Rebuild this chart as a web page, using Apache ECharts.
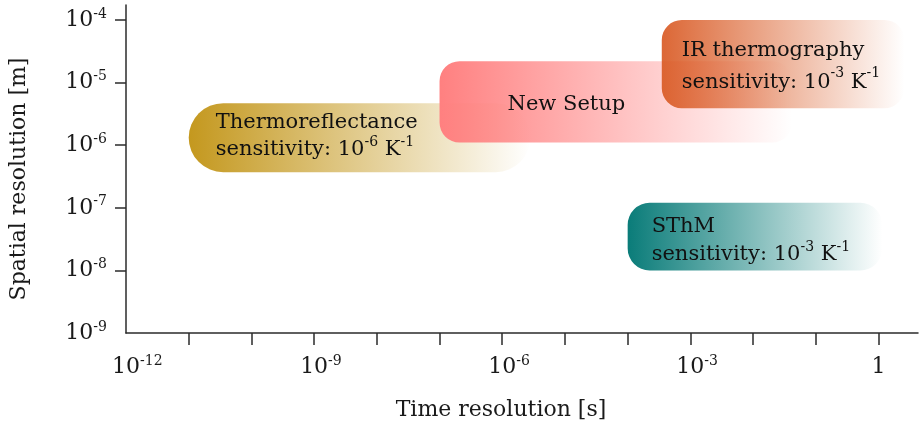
<!DOCTYPE html>
<html>
<head>
<meta charset="utf-8">
<script src="https://cdn.jsdelivr.net/npm/echarts@6/dist/echarts.min.js"></script>
<style>
  html, body { margin: 0; padding: 0; background: #fff; }
  #chart { width: 922px; height: 428px; }
</style>
</head>
<body>
<div id="chart"></div>
<script>
// Measurement techniques and the time / spatial resolution ranges they cover
const techniques = ['Thermoreflectance', 'New Setup', 'IR thermography', 'SThM'];
const timeFrom = [1e-11, 1e-7, 3.5e-4, 1e-4];      // s
const timeTo   = [2.8e-6, 4.2e-2, 2.6, 1.15];        // s
const sizeMin  = [3.7e-7, 1.1e-6, 3.9e-6, 1e-8];     // m
const sizeMax  = [4.7e-6, 2.2e-5, 1e-4, 1.2e-7];     // m
const bandTexts = [
  'Thermoreflectance\nsensitivity: 10{s|-6} K{s|-1}',
  'New Setup',
  'IR thermography\nsensitivity: 10{s|-3} K{s|-1}',
  'SThM\nsensitivity: 10{s|-3} K{s|-1}'
];

// Axis ticks and labels (decades)
const xTickValues  = [1e-11, 1e-10, 1e-9, 1e-8, 1e-7, 1e-6, 1e-5, 1e-4, 1e-3, 1e-2, 1e-1, 1];
const xLabelValues = [1e-12, 1e-9, 1e-6, 1e-3, 1];
const yTickValues  = [1e-8, 1e-7, 1e-6, 1e-5, 1e-4];
const yLabelValues = [1e-9, 1e-8, 1e-7, 1e-6, 1e-5, 1e-4];

// Styling
const FONT = '"DejaVu Serif", "Liberation Serif", serif';
const bandRGB = [[196, 152, 30], [255, 128, 128], [217, 90, 36], [10, 124, 121]];
const bandOpacity = [1, 1, 0.92, 1];
const bandRadius = [40, 20, 20, 22];
const textInset = [27, 68, 20, 24];
const textShift = [-2, 3, 2, 4];
const textLineHeight = [27, 27, 32, 28];
const axisColor = '#2b2b2b';

function exponentOf(v) { return Math.round(Math.log10(v)); }

const supStyle = { fontSize: 14, fontFamily: FONT, verticalAlign: 'top', lineHeight: 16, color: '#1a1a1a' };

function renderBand(params, api) {
  const i = params.dataIndex;
  const topLeft = api.coord([api.value(0), api.value(3)]);
  const bottomRight = api.coord([api.value(1), api.value(2)]);
  const x = topLeft[0], y = topLeft[1];
  const w = bottomRight[0] - x, h = bottomRight[1] - y;
  const c = bandRGB[i];
  const grad = new echarts.graphic.LinearGradient(0, 0, 1, 0, [
    { offset: 0, color: `rgba(${c[0]},${c[1]},${c[2]},1)` },
    { offset: 1, color: `rgba(${c[0]},${c[1]},${c[2]},0)` }
  ]);
  return {
    type: 'group',
    children: [
      {
        type: 'rect',
        shape: { x, y, width: w, height: h, r: Math.min(bandRadius[i], h / 2) },
        style: { fill: grad, opacity: bandOpacity[i] }
      },
      {
        type: 'text',
        x: x + textInset[i],
        y: y + h / 2 + textShift[i],
        style: {
          text: bandTexts[i],
          fill: '#111',
          fontSize: 21,
          fontFamily: FONT,
          lineHeight: textLineHeight[i],
          align: 'left',
          verticalAlign: 'middle',
          rich: {
            s: { fontSize: 14, fontFamily: FONT, verticalAlign: 'top', lineHeight: 17, fill: '#111' }
          }
        }
      }
    ]
  };
}

const chart = echarts.init(document.getElementById('chart'), null, { renderer: 'canvas' });

chart.setOption({
  animation: false,
  backgroundColor: '#fff',
  grid: { left: 126, right: 4, top: 5, bottom: 95, containLabel: false },
  xAxis: {
    type: 'log',
    logBase: 10,
    min: 1e-12,
    max: Math.pow(10, 0.63),
    name: 'Time resolution [s]',
    nameLocation: 'middle',
    nameGap: 66,
    nameTextStyle: { fontFamily: FONT, fontSize: 22, color: '#1a1a1a', padding: [0, 42, 0, 0] },
    axisLine: { show: true, lineStyle: { color: axisColor, width: 1.5 } },
    axisTick: { show: true, length: 12, inside: false, customValues: xTickValues, lineStyle: { color: axisColor, width: 1.5 } },
    minorTick: { show: false },
    splitLine: { show: false },
    axisLabel: {
      customValues: xLabelValues,
      margin: 21,
      fontFamily: FONT,
      fontSize: 22,
      lineHeight: 26,
      color: '#1a1a1a',
      formatter: function (v) {
        const e = exponentOf(v);
        if (e === 0) return '1';
        return '{h|' + e + '}10{s|' + e + '}';
      },
      rich: {
        s: supStyle,
        h: Object.assign({}, supStyle, { color: 'rgba(0,0,0,0)' })
      }
    }
  },
  yAxis: {
    type: 'log',
    logBase: 10,
    min: 1e-9,
    max: Math.pow(10, -3.76),
    name: 'Spatial resolution [m]',
    nameLocation: 'middle',
    nameGap: 96,
    nameTextStyle: { fontFamily: FONT, fontSize: 22, color: '#1a1a1a', padding: [0, 20, 0, 0] },
    axisLine: { show: true, lineStyle: { color: axisColor, width: 1.5 } },
    axisTick: { show: true, length: 11, inside: false, customValues: yTickValues, lineStyle: { color: axisColor, width: 1.5 } },
    minorTick: { show: false },
    splitLine: { show: false },
    axisLabel: {
      customValues: yLabelValues,
      margin: 19,
      fontFamily: FONT,
      fontSize: 22,
      lineHeight: 26,
      color: '#1a1a1a',
      formatter: function (v) {
        return '10{s|' + exponentOf(v) + '}';
      },
      rich: { s: supStyle }
    }
  },
  series: [{
    type: 'custom',
    name: 'Techniques',
    renderItem: renderBand,
    clip: false,
    encode: { x: [0, 1], y: [2, 3] },
    data: techniques.map((n, i) => [timeFrom[i], timeTo[i], sizeMin[i], sizeMax[i], n])
  }]
});
</script>
</body>
</html>
